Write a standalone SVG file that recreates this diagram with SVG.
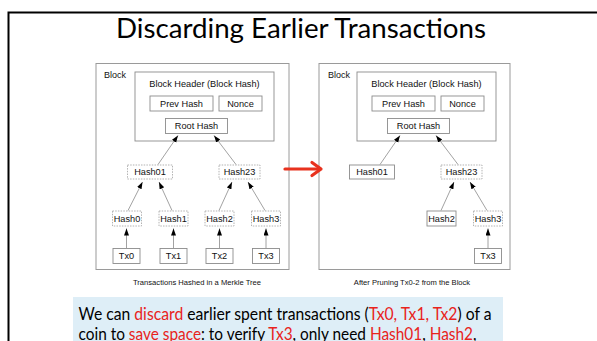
<svg xmlns="http://www.w3.org/2000/svg" width="597" height="341" viewBox="0 0 597 341">
  <style>
    .frame { fill: none; stroke: #000; stroke-width: 2; }
    .outer { fill: #fff; stroke: #9a9a9a; stroke-width: 1; }
    .box { fill: #fff; stroke: #8c8c8c; stroke-width: 0.9; }
    .dash { fill: #fff; stroke: #aaa; stroke-width: 0.9; stroke-dasharray: 1.5 1.2; }
    .lbl { font-family: "Liberation Sans", Arial, sans-serif; font-size: 9.2px; fill: #111; text-anchor: middle; }
    .blk { font-family: "Liberation Sans", Arial, sans-serif; font-size: 9px; fill: #111; }
    .cap { font-family: "Liberation Sans", Arial, sans-serif; font-size: 7.6px; fill: #111; text-anchor: middle; }
    .edge { stroke: #8a8a8a; stroke-width: 0.8; fill: none; marker-end: url(#tip); }
    .title { font-family: Lato, "Open Sans", sans-serif; font-size: 27px; fill: #000; }
    .body { font-family: Lato, "Open Sans", sans-serif; font-size: 18px; fill: #000; }
    .red { fill: #e8231c; }
  </style>
  <defs>
    <marker id="tip" markerUnits="userSpaceOnUse" markerWidth="8" markerHeight="6" refX="7" refY="2.5" orient="auto">
      <path d="M0,0 L7,2.5 L0,5 z" fill="#000"/>
    </marker>
  </defs>

  <rect width="597" height="341" fill="#fff"/>

  <!-- slide frame -->
  <path class="frame" d="M8.5,341 V12.5 H597"/>

  <!-- title -->
  <text class="title" x="116" y="38" textLength="370" lengthAdjust="spacingAndGlyphs">Discarding Earlier Transactions</text>

  <!-- full block with the complete Merkle tree -->
  <g id="block-full">
    <rect class="outer" x="96" y="63.5" width="193" height="206"/>
    <text class="blk" x="104" y="77.5">Block</text>
    <g id="header-full">
      <rect class="box" x="135" y="72" width="139" height="69"/>
      <text class="lbl" x="204.5" y="87">Block Header (Block Hash)</text>
    </g>
    <g id="prev-full"><rect class="box" x="150" y="96" width="63" height="15"/><text class="lbl" x="181.5" y="106.8">Prev Hash</text></g>
    <g id="nonce-full"><rect class="box" x="219" y="96" width="43" height="15"/><text class="lbl" x="240.5" y="106.8">Nonce</text></g>
    <g id="root-full"><rect class="box" x="165.5" y="118.5" width="62" height="15"/><text class="lbl" x="196.5" y="129.3">Root Hash</text></g>
    <g id="hash01-full"><rect class="dash" x="127.5" y="165" width="45" height="14"/><text class="lbl" x="150" y="175.3">Hash01</text></g>
    <g id="hash23-full"><rect class="dash" x="219" y="165" width="41" height="14"/><text class="lbl" x="239.5" y="175.3">Hash23</text></g>
    <g id="hash0-full"><rect class="dash" x="112.5" y="211" width="29" height="15"/><text class="lbl" x="127" y="221.8">Hash0</text></g>
    <g id="hash1-full"><rect class="dash" x="159" y="211" width="29" height="15"/><text class="lbl" x="173.5" y="221.8">Hash1</text></g>
    <g id="hash2-full"><rect class="dash" x="205" y="211" width="29" height="15"/><text class="lbl" x="219.5" y="221.8">Hash2</text></g>
    <g id="hash3-full"><rect class="dash" x="251.5" y="211" width="29" height="15"/><text class="lbl" x="266" y="221.8">Hash3</text></g>
    <g id="tx0-full"><rect class="box" x="113" y="248.5" width="27" height="15"/><text class="lbl" x="126.5" y="259.3">Tx0</text></g>
    <g id="tx1-full"><rect class="box" x="160" y="248.5" width="27" height="15"/><text class="lbl" x="173.5" y="259.3">Tx1</text></g>
    <g id="tx2-full"><rect class="box" x="206" y="248.5" width="27" height="15"/><text class="lbl" x="219.5" y="259.3">Tx2</text></g>
    <g id="tx3-full"><rect class="box" x="252.5" y="248.5" width="27" height="15"/><text class="lbl" x="266" y="259.3">Tx3</text></g>
    <text class="cap" x="197" y="285">Transactions Hashed in a Merkle Tree</text>
  </g>

  <g id="edges-full">
    <line class="edge" x1="158" y1="164.5" x2="178" y2="135.5"/>
    <line class="edge" x1="236" y1="164.5" x2="214" y2="135.5"/>
    <line class="edge" x1="128" y1="210.5" x2="142.5" y2="182"/>
    <line class="edge" x1="172" y1="210.5" x2="159" y2="182"/>
    <line class="edge" x1="219" y1="210.5" x2="232" y2="182"/>
    <line class="edge" x1="265" y1="210.5" x2="248" y2="182"/>
    <line class="edge" x1="126.5" y1="248" x2="126.5" y2="228.5"/>
    <line class="edge" x1="173.5" y1="248" x2="173.5" y2="228.5"/>
    <line class="edge" x1="219.5" y1="248" x2="219.5" y2="228.5"/>
    <line class="edge" x1="266" y1="248" x2="266" y2="228.5"/>
  </g>

  <!-- pruned block -->
  <g id="block-pruned">
    <rect class="outer" x="319" y="63.5" width="191" height="206"/>
    <text class="blk" x="328" y="77.5">Block</text>
    <g transform="translate(222,0)">
      <g id="header-pruned">
        <rect class="box" x="135" y="72" width="139" height="69"/>
        <text class="lbl" x="204.5" y="87">Block Header (Block Hash)</text>
      </g>
      <g id="prev-pruned"><rect class="box" x="150" y="96" width="63" height="15"/><text class="lbl" x="181.5" y="106.8">Prev Hash</text></g>
      <g id="nonce-pruned"><rect class="box" x="219" y="96" width="43" height="15"/><text class="lbl" x="240.5" y="106.8">Nonce</text></g>
      <g id="root-pruned"><rect class="box" x="165.5" y="118.5" width="62" height="15"/><text class="lbl" x="196.5" y="129.3">Root Hash</text></g>
      <g id="hash01-pruned"><rect class="box" x="127.5" y="165" width="45" height="14"/><text class="lbl" x="150" y="175.3">Hash01</text></g>
      <g id="hash23-pruned"><rect class="dash" x="219" y="165" width="41" height="14"/><text class="lbl" x="239.5" y="175.3">Hash23</text></g>
      <g id="hash2-pruned"><rect class="box" x="205" y="211" width="29" height="15"/><text class="lbl" x="219.5" y="221.8">Hash2</text></g>
      <g id="hash3-pruned"><rect class="dash" x="251.5" y="211" width="29" height="15"/><text class="lbl" x="266" y="221.8">Hash3</text></g>
      <g id="tx3-pruned"><rect class="box" x="252.5" y="248.5" width="27" height="15"/><text class="lbl" x="266" y="259.3">Tx3</text></g>
      <g id="edges-pruned">
        <line class="edge" x1="158" y1="164.5" x2="178" y2="135.5"/>
        <line class="edge" x1="236" y1="164.5" x2="214" y2="135.5"/>
        <line class="edge" x1="219" y1="210.5" x2="232" y2="182"/>
        <line class="edge" x1="265" y1="210.5" x2="248" y2="182"/>
        <line class="edge" x1="266" y1="248" x2="266" y2="228.5"/>
      </g>
    </g>
    <text class="cap" x="412" y="285">After Pruning Tx0-2 from the Block</text>
  </g>

  <!-- transition arrow -->
  <g id="prune-arrow" stroke="#e8321e" stroke-width="3.2" fill="none" stroke-linecap="round" stroke-linejoin="round">
    <line x1="285" y1="169" x2="320" y2="169"/>
    <polyline points="312,162.5 321,169 312,175.5"/>
  </g>

  <!-- note -->
  <g id="note">
    <rect x="73" y="297" width="430" height="50" fill="#deeef7"/>
    <text class="body" x="78.5" y="320" textLength="413" lengthAdjust="spacingAndGlyphs">We can <tspan class="red">discard</tspan> earlier spent transactions (<tspan class="red">Tx0, Tx1, Tx2</tspan>) of a</text>
    <text class="body" x="78.5" y="339.5" textLength="398" lengthAdjust="spacingAndGlyphs">coin to <tspan class="red">save space</tspan>: to verify <tspan class="red">Tx3</tspan>, only need <tspan class="red">Hash01</tspan>, <tspan class="red">Hash2</tspan>,</text>
  </g>
</svg>
